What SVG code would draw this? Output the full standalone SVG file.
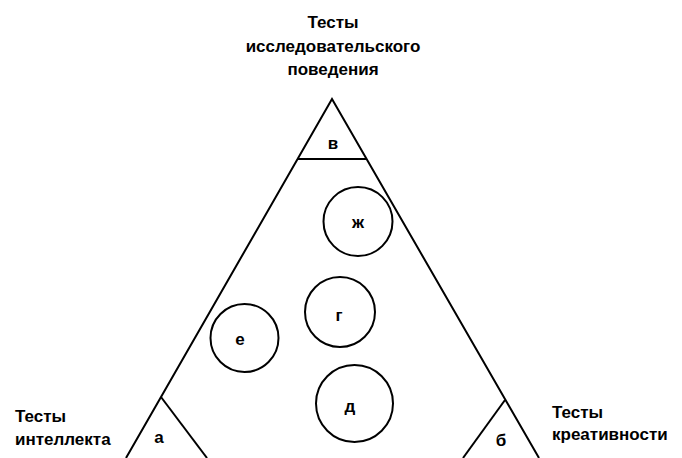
<svg xmlns="http://www.w3.org/2000/svg" width="682" height="458" viewBox="0 0 682 458">
<style>
.ln{fill:none;stroke:#000;stroke-width:2}
.c{fill:#fff;stroke:#000;stroke-width:2}
.t{font-family:"Liberation Sans",Arial,sans-serif;font-weight:bold;font-size:17px;fill:#000}
.m{text-anchor:middle}
</style>
<rect width="682" height="458" fill="#fff"/>
<g id="connectors">
<polyline class="ln" points="126,458 332,99 539,458"/>
<line class="ln" x1="298" y1="159" x2="367" y2="159"/>
<line class="ln" x1="161" y1="397" x2="207" y2="458"/>
<line class="ln" x1="505" y1="400" x2="463" y2="458"/>
</g>
<g id="node-v"><text class="t m" x="333" y="149">в</text></g>
<g id="node-a"><text class="t m" x="159" y="443">а</text></g>
<g id="node-b"><text class="t m" x="501" y="446">б</text></g>
<g id="node-zh"><circle class="c" cx="358" cy="221.5" r="34.5"/><text class="t m" x="358" y="228">ж</text></g>
<g id="node-g"><circle class="c" cx="340" cy="312" r="35"/><text class="t m" x="339" y="321">г</text></g>
<g id="node-e"><circle class="c" cx="244.5" cy="338" r="34"/><text class="t m" x="240" y="345">е</text></g>
<g id="node-d"><circle class="c" cx="354.5" cy="403.5" r="38.5"/><text class="t m" x="350" y="412">д</text></g>
<g id="label-top"><text class="t m" x="333" y="28">Тесты</text><text class="t m" x="333" y="52">исследовательского</text><text class="t m" x="333" y="75">поведения</text></g>
<g id="label-left"><text class="t" x="15" y="422">Тесты</text><text class="t" x="15" y="445">интеллекта</text></g>
<g id="label-right"><text class="t" x="552" y="418">Тесты</text><text class="t" x="552" y="440">креативности</text></g>
</svg>
